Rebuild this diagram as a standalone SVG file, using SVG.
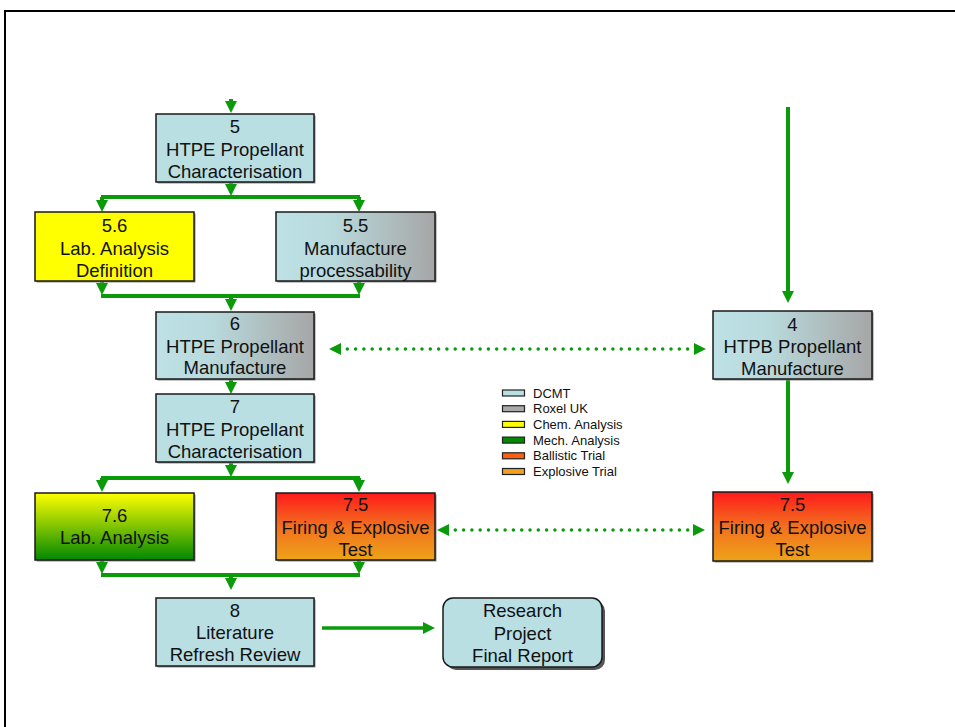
<svg xmlns="http://www.w3.org/2000/svg" width="955" height="727" viewBox="0 0 955 727">
  <style>
    .box { stroke: #1a1a1a; stroke-width: 1.5; }
    .shadow { fill: #8c8c8c; }
    .lbl { font-family: "Liberation Sans", Arial, sans-serif; font-size: 18.5px; fill: #111; text-anchor: middle; }
    .leg { font-family: "Liberation Sans", Arial, sans-serif; font-size: 13px; fill: #111; }
    .sw { stroke: #222; stroke-width: 1.2; }
    .flow { stroke: #0a9a0a; stroke-width: 4; fill: none; }
    .arr { stroke: #0a9a0a; stroke-width: 4; fill: none; marker-end: url(#ah); }
    .thin { stroke: #0a9a0a; stroke-width: 3.5; fill: none; marker-end: url(#ah); }
    .dots { stroke: #0a9a0a; stroke-width: 3.5; fill: none; stroke-linecap: round; stroke-dasharray: 0 8.3; marker-start: url(#ahs); marker-end: url(#ah); }
    .dcmt { fill: #b9dfe3; }
    .roxel { fill: #a9a9a9; }
    .chem { fill: #ffff00; }
    .mech { fill: #008a00; }
    .ball { fill: #ff6010; }
    .expl { fill: #f0a020; }
  </style>
  <defs>
    <marker id="ah" viewBox="0 0 12 12" markerWidth="12" markerHeight="12" markerUnits="userSpaceOnUse" refX="2" refY="6" orient="auto">
      <path d="M0,0 L12,6 L0,12 z" fill="#0a9a0a"/>
    </marker>
    <marker id="ahs" viewBox="0 0 12 12" markerWidth="12" markerHeight="12" markerUnits="userSpaceOnUse" refX="2" refY="6" orient="auto-start-reverse">
      <path d="M0,0 L12,6 L0,12 z" fill="#0a9a0a"/>
    </marker>
    <linearGradient id="blueGrey" x1="0" y1="0" x2="1" y2="0">
      <stop offset="0" stop-color="#bde1e5"/>
      <stop offset="0.35" stop-color="#b9dadd"/>
      <stop offset="1" stop-color="#a6a6a6"/>
    </linearGradient>
    <linearGradient id="yellowGreen" x1="0" y1="0" x2="0" y2="1">
      <stop offset="0" stop-color="#ffff00"/>
      <stop offset="1" stop-color="#008800"/>
    </linearGradient>
    <linearGradient id="redOrange" x1="0" y1="0" x2="0" y2="1">
      <stop offset="0" stop-color="#ff1a1a"/>
      <stop offset="0.5" stop-color="#f2701f"/>
      <stop offset="1" stop-color="#eea318"/>
    </linearGradient>
  </defs>

  <rect width="955" height="727" fill="#ffffff"/>
  <!-- page frame -->
  <path d="M5,727 V11 H955" fill="none" stroke="#000" stroke-width="2"/>

  <!-- connectors -->
  <g id="connectors">
    <line class="arr" x1="231" y1="99" x2="231" y2="103"/>
    <line class="arr" x1="231" y1="182" x2="231" y2="186"/>
    <path class="flow" d="M101,197 H360"/>
    <line class="arr" x1="102" y1="197" x2="102" y2="202"/>
    <line class="arr" x1="359" y1="197" x2="359" y2="202"/>
    <line class="arr" x1="102" y1="281" x2="102" y2="285"/>
    <line class="arr" x1="359" y1="281" x2="359" y2="285"/>
    <path class="flow" d="M101,296 H360"/>
    <line class="arr" x1="231" y1="296" x2="231" y2="301"/>
    <line class="arr" x1="231" y1="379" x2="231" y2="384"/>
    <line class="arr" x1="231" y1="462" x2="231" y2="467"/>
    <path class="flow" d="M101,478 H360"/>
    <line class="arr" x1="102" y1="478" x2="102" y2="482"/>
    <line class="arr" x1="359" y1="478" x2="359" y2="482"/>
    <line class="arr" x1="102" y1="560" x2="102" y2="564"/>
    <line class="arr" x1="359" y1="560" x2="359" y2="564"/>
    <path class="flow" d="M101,575 H360"/>
    <line class="arr" x1="231" y1="575" x2="231" y2="580"/>
    <line class="thin" x1="322" y1="628" x2="425" y2="628"/>
    <line class="arr" x1="788" y1="107" x2="788" y2="293"/>
    <line class="arr" x1="788" y1="379" x2="788" y2="474"/>
    <line class="dots" x1="339" y1="349" x2="696" y2="349"/>
    <line class="dots" x1="447" y1="530" x2="695" y2="530"/>
  </g>

  <!-- nodes -->
  <g id="node-5">
    <rect class="shadow" x="157.5" y="115.5" width="158" height="68"/>
    <rect class="box dcmt" x="156" y="114" width="158" height="68"/>
    <text class="lbl" x="235" y="133">5</text>
    <text class="lbl" x="235" y="155.5">HTPE Propellant</text>
    <text class="lbl" x="235" y="178">Characterisation</text>
  </g>
  <g id="node-5-6">
    <rect class="shadow" x="36.5" y="213.5" width="159" height="69"/>
    <rect class="box chem" x="35" y="212" width="159" height="69"/>
    <text class="lbl" x="114.5" y="232">5.6</text>
    <text class="lbl" x="114.5" y="254.5">Lab. Analysis</text>
    <text class="lbl" x="114.5" y="277">Definition</text>
  </g>
  <g id="node-5-5">
    <rect class="shadow" x="277.5" y="213.5" width="159" height="69"/>
    <rect class="box" fill="url(#blueGrey)" x="276" y="212" width="159" height="69"/>
    <text class="lbl" x="355.5" y="232">5.5</text>
    <text class="lbl" x="355.5" y="254.5">Manufacture</text>
    <text class="lbl" x="355.5" y="277">processability</text>
  </g>
  <g id="node-6">
    <rect class="shadow" x="157.5" y="313.5" width="158" height="67"/>
    <rect class="box" fill="url(#blueGrey)" x="156" y="312" width="158" height="67"/>
    <text class="lbl" x="235" y="330">6</text>
    <text class="lbl" x="235" y="352.5">HTPE Propellant</text>
    <text class="lbl" x="235" y="374">Manufacture</text>
  </g>
  <g id="node-7">
    <rect class="shadow" x="157.5" y="395.5" width="158" height="68"/>
    <rect class="box dcmt" x="156" y="394" width="158" height="68"/>
    <text class="lbl" x="235" y="413">7</text>
    <text class="lbl" x="235" y="435.5">HTPE Propellant</text>
    <text class="lbl" x="235" y="457.5">Characterisation</text>
  </g>
  <g id="node-7-6">
    <rect class="shadow" x="36.5" y="494.5" width="159" height="67"/>
    <rect class="box" fill="url(#yellowGreen)" x="35" y="493" width="159" height="67"/>
    <text class="lbl" x="114.5" y="522">7.6</text>
    <text class="lbl" x="114.5" y="544">Lab. Analysis</text>
  </g>
  <g id="node-7-5-left">
    <rect class="shadow" x="277.5" y="494.5" width="159" height="67"/>
    <rect class="box" fill="url(#redOrange)" x="276" y="493" width="159" height="67"/>
    <text class="lbl" x="355.5" y="511">7.5</text>
    <text class="lbl" x="355.5" y="533.5">Firing &amp; Explosive</text>
    <text class="lbl" x="355.5" y="555.5">Test</text>
  </g>
  <g id="node-8">
    <rect class="shadow" x="157.5" y="599.5" width="158" height="68"/>
    <rect class="box dcmt" x="156" y="598" width="158" height="68"/>
    <text class="lbl" x="235" y="617">8</text>
    <text class="lbl" x="235" y="639">Literature</text>
    <text class="lbl" x="235" y="661">Refresh Review</text>
  </g>
  <g id="node-final-report">
    <rect x="446" y="601" width="159" height="69" rx="10" fill="#555"/>
    <rect class="box dcmt" x="443" y="598" width="159" height="69" rx="10"/>
    <text class="lbl" x="522.5" y="617">Research</text>
    <text class="lbl" x="522.5" y="639.5">Project</text>
    <text class="lbl" x="522.5" y="662">Final Report</text>
  </g>
  <g id="node-4">
    <rect class="shadow" x="714.5" y="312.5" width="159" height="68"/>
    <rect class="box" fill="url(#blueGrey)" x="713" y="311" width="159" height="68"/>
    <text class="lbl" x="792.5" y="331">4</text>
    <text class="lbl" x="792.5" y="353">HTPB Propellant</text>
    <text class="lbl" x="792.5" y="375">Manufacture</text>
  </g>
  <g id="node-7-5-right">
    <rect class="shadow" x="714.5" y="493.5" width="159" height="69"/>
    <rect class="box" fill="url(#redOrange)" x="713" y="492" width="159" height="69"/>
    <text class="lbl" x="792.5" y="511">7.5</text>
    <text class="lbl" x="792.5" y="533.5">Firing &amp; Explosive</text>
    <text class="lbl" x="792.5" y="556">Test</text>
  </g>

  <!-- legend -->
  <g id="legend">
    <rect class="sw dcmt" x="502.5" y="390" width="22" height="6"/>
    <text class="leg" x="533" y="397.5">DCMT</text>
    <rect class="sw roxel" x="502.5" y="405.7" width="22" height="6"/>
    <text class="leg" x="533" y="413.2">Roxel UK</text>
    <rect class="sw chem" x="502.5" y="421.4" width="22" height="6"/>
    <text class="leg" x="533" y="428.9">Chem. Analysis</text>
    <rect class="sw mech" x="502.5" y="437.1" width="22" height="6"/>
    <text class="leg" x="533" y="444.6">Mech. Analysis</text>
    <rect class="sw ball" x="502.5" y="452.8" width="22" height="6"/>
    <text class="leg" x="533" y="460.3">Ballistic Trial</text>
    <rect class="sw expl" x="502.5" y="468.5" width="22" height="6"/>
    <text class="leg" x="533" y="476">Explosive Trial</text>
  </g>
</svg>
